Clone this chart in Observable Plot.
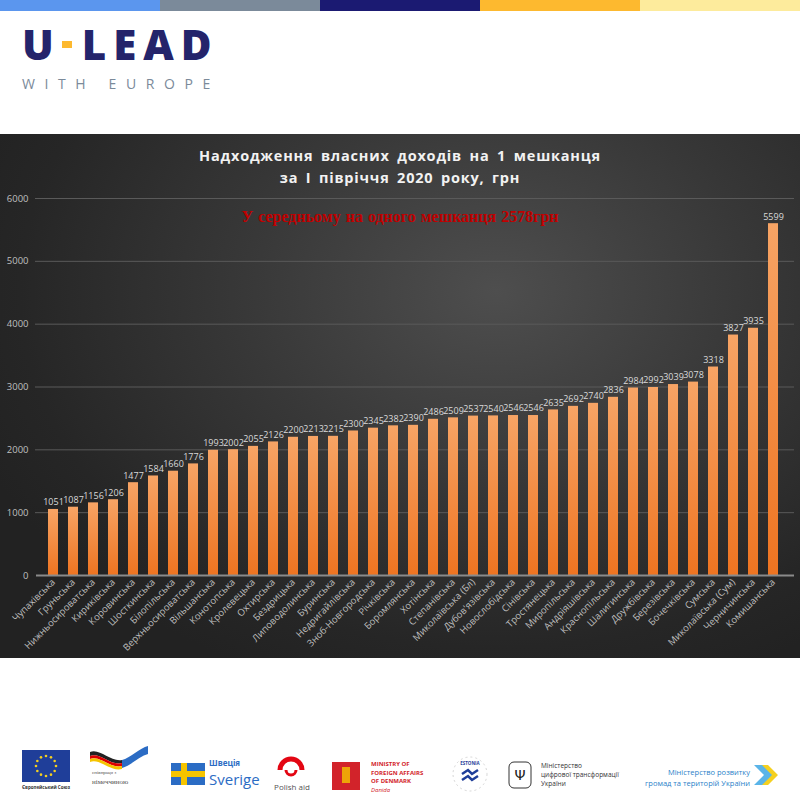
<!DOCTYPE html>
<html>
<head>
<meta charset="utf-8">
<script src="https://cdn.jsdelivr.net/npm/d3@7"></script>
<script src="https://cdn.jsdelivr.net/npm/@observablehq/plot@0.6"></script>
<style>
  html, body { margin: 0; padding: 0; background: #fff; }
  #page { position: relative; width: 800px; height: 800px; overflow: hidden; background: #fff; font-family: "Open Sans", sans-serif; }
  #topbar { position: absolute; left: 0; top: 0; width: 800px; height: 11px; display: flex; }
  #topbar div { flex: 1; height: 11px; }
  #logo { position: absolute; left: 22px; top: 22px; }
  #logo .big { font-family: "Open Sans", sans-serif; font-weight: 800; font-size: 42px; color: #24246b; letter-spacing: 7px; line-height: 44px; display: flex; align-items: center; }
  #logo .dash { display: inline-block; width: 10px; height: 7px; background: #fdb92f; margin: 0 10px 0 1px; }
  #logo .small { font-family: "Open Sans", sans-serif; font-size: 14px; color: #7b8a9a; letter-spacing: 9.6px; margin-top: 8px; }
  #panel { position: absolute; left: 0; top: 134px; width: 800px; height: 524px;
    background: radial-gradient(ellipse 70% 80% at 62% 30%, #4e4e4e 0%, #383838 45%, #262626 85%, #222 100%); }
  #title { position: absolute; left: 0; top: 11px; width: 800px; text-align: center; color: #f2f2f2;
    font-family: "Open Sans", sans-serif; font-weight: 700; font-size: 14.5px; line-height: 22px; letter-spacing: 0.8px; word-spacing: 3px; }
  #avg { position: absolute; left: 0; top: 74px; width: 800px; text-align: center; color: #c00000;
    font-family: "Liberation Serif", serif; font-weight: 700; font-size: 16px; word-spacing: 1px; }
  #chart { position: absolute; left: 0; top: 56px; }
  #footer { position: absolute; left: 0; top: 740px; width: 800px; height: 52px; }
</style>
</head>
<body>
<div id="page">
  <div id="topbar">
    <div style="background:#5b96ee"></div>
    <div style="background:#7b8a9a"></div>
    <div style="background:#1b1a72"></div>
    <div style="background:#fdb92f"></div>
    <div style="background:#fdeb9c"></div>
  </div>
  <div id="logo">
    <div class="big">U<span class="dash"></span>LEAD</div>
    <div class="small">WITH EUROPE</div>
  </div>
  <div id="panel">
    <div id="title">Надходження власних доходів на 1 мешканця<br>за I півріччя 2020 року, грн</div>
    <div id="chart"></div>
    <div id="avg">У середньому на одного мешканця 2578грн</div>
  </div>
  <div id="footer">
    <svg width="800" height="52" style="position:absolute;left:0;top:0">
      <rect x="22" y="10" width="48" height="32" fill="#1f3e99"/>
      <g id="stars"></g>
      <text x="46" y="49" font-size="4.5" text-anchor="middle" fill="#333" font-weight="700" font-family="Open Sans">Європейський Союз</text>
      <path d="M90 12 C100 8,110 22,122 20 L122 23 C110 26,100 12,90 16Z" fill="#222"/>
      <path d="M90 16 C100 12,110 26,122 23 L122 26 C110 29,100 15,90 19Z" fill="#d00"/>
      <path d="M90 19 C100 15,110 29,122 26 L122 29 C110 32,100 18,90 22Z" fill="#f5c400"/>
      <path d="M122 20 C130 18,140 8,148 6 L148 14 C140 16,130 26,122 28Z" fill="#2b6cc4"/>
      <text x="92" y="34" font-size="5" fill="#555" font-family="Liberation Serif">співпраця з</text>
      <text x="92" y="44" font-size="7" fill="#555" font-family="Liberation Serif">німеччиною</text>
      <rect x="171" y="23" width="34" height="22" fill="#2b6cc4"/>
      <rect x="181" y="23" width="6" height="22" fill="#f5c400"/>
      <rect x="171" y="31" width="34" height="6" fill="#f5c400"/>
      <text x="209" y="26" font-size="8" fill="#2b6cc4" font-weight="700" font-family="Open Sans">Швеція</text>
      <text x="209" y="45" font-size="15" fill="#2b6cc4" font-family="Open Sans">Sverige</text>
      <path d="M280 30 A11 11 0 1 1 302 30" fill="none" stroke="#e30613" stroke-width="5"/>
      <path d="M286 30 A5 5 0 0 0 296 30" fill="none" stroke="#e30613" stroke-width="3"/>
      <text x="292" y="50" font-size="8" fill="#555" text-anchor="middle" font-family="Open Sans">Polish aid</text>
      <rect x="332" y="22" width="28" height="28" fill="#d2232a"/>
      <rect x="342" y="27" width="8" height="16" fill="#f5c400" opacity="0.8"/>
      <text x="371" y="26" font-size="6" fill="#d2232a" font-weight="700" font-family="Open Sans">MINISTRY OF</text>
      <text x="371" y="34.5" font-size="6" fill="#d2232a" font-weight="700" font-family="Open Sans">FOREIGN AFFAIRS</text>
      <text x="371" y="43" font-size="6" fill="#d2232a" font-weight="700" font-family="Open Sans">OF DENMARK</text>
      <text x="371" y="51.5" font-size="6" fill="#d2232a" font-style="italic" font-family="Open Sans">Danida</text>
      <circle cx="470" cy="34" r="17" fill="none" stroke="#ccc" stroke-width="0.8" stroke-dasharray="2 3"/>
      <text x="470" y="25" font-size="4.5" fill="#1f3e99" text-anchor="middle" font-weight="700" font-family="Open Sans">ESTONIA</text>
      <path d="M462 34 l6 -4 l4 4 l6 -4 M462 40 l6 -4 l4 4 l6 -4" fill="none" stroke="#1f3e99" stroke-width="2.5"/>
      <rect x="509" y="22" width="22" height="26" rx="5" fill="#fff" stroke="#333" stroke-width="1"/>
      <text x="520" y="40" font-size="14" fill="#222" text-anchor="middle" font-family="DejaVu Sans">Ψ</text>
      <text x="541" y="28" font-size="6.5" fill="#333" font-family="Open Sans">Міністерство</text>
      <text x="541" y="37" font-size="6.5" fill="#333" font-family="Open Sans">цифрової трансформації</text>
      <text x="541" y="46" font-size="6.5" fill="#333" font-family="Open Sans">України</text>
      <text x="750" y="35" font-size="7.5" fill="#2b82c9" text-anchor="end" font-family="Open Sans">Міністерство розвитку</text>
      <text x="750" y="46" font-size="7.5" fill="#2b82c9" text-anchor="end" font-family="Open Sans">громад та територій України</text>
      <path d="M754 25 l10 0 l10 10 l-10 10 l-10 0 l10 -10z" fill="#5ab4e8"/>
      <path d="M762 25 l6 0 l10 10 l-10 10 l-6 0 l10 -10z" fill="#f5d020"/>
    </svg>
  </div>
</div>
<script>
const communities = ["Чупахівська","Груньська","Нижньосироватська","Кириківська","Коровинська","Шосткинська","Білопільська","Верхньосироватська","Вільшанська","Конотопська","Кролевецька","Охтирська","Бездрицька","Липоводолинська","Буринська","Недригайлівська","Зноб-Новгородська","Річківська","Боромлянська","Хотінська","Степанівська","Миколаївська (Бл)","Дубов'язівська","Новослобідська","Сінівська","Тростянецька","Миропільська","Андріяшівська","Краснопільська","Шалигинська","Дружбівська","Березівська","Бочечківська","Сумська","Миколаївська (Сум)","Черничинська","Комишанська"];
const incomePerResident = [1051,1087,1156,1206,1477,1584,1660,1776,1993,2002,2055,2126,2200,2213,2215,2300,2345,2382,2390,2486,2509,2537,2540,2546,2546,2635,2692,2740,2836,2984,2992,3039,3078,3318,3827,3935,5599];
const yTicks = [0,1000,2000,3000,4000,5000,6000];

const data = communities.map((name, i) => ({name, value: incomePerResident[i]}));

const plot = Plot.plot({
  width: 800,
  height: 468,
  marginTop: 8,
  marginBottom: 83,
  marginLeft: 32,
  marginRight: 6,
  style: {background: "transparent", color: "#bfbfbf", fontFamily: "Open Sans, sans-serif", fontSize: "9px"},
  x: {domain: communities, padding: 0.5, label: null},
  y: {domain: [0, 6000], label: null},
  marks: [
    Plot.gridY(yTicks.filter(d => d > 0), {stroke: "#5a5a5a", strokeOpacity: 1, insetLeft: 3}),
    Plot.barY(data, {x: "name", y: "value", fill: "url(#barGrad)"}),
    Plot.ruleY([0], {stroke: "#8a8a8a", strokeWidth: 2, insetLeft: 4}),
    Plot.text(data, {x: "name", y: "value", text: d => String(d.value), dy: -7, fill: "#d9d9d9", fontSize: 9}),
    Plot.axisY({ticks: yTicks, tickSize: 0, tickPadding: 4, tickFormat: d => String(d), fill: "#bfbfbf", fontSize: 9.5}),
    Plot.axisX({tickRotate: -45, tickSize: 0, tickPadding: 5, fill: "#bfbfbf", fontSize: 9.5})
  ]
});

const ns = "http://www.w3.org/2000/svg";
const defs = document.createElementNS(ns, "defs");
defs.innerHTML = '<linearGradient id="barGrad" x1="0" y1="0" x2="0" y2="1"><stop offset="0" stop-color="#f7a465"/><stop offset="1" stop-color="#ee7421"/></linearGradient>';
plot.insertBefore(defs, plot.firstChild);
document.getElementById("chart").appendChild(plot);

// EU stars
const g = document.getElementById("stars");
for (let i = 0; i < 12; i++) {
  const a = i / 12 * 2 * Math.PI;
  const c = document.createElementNS(ns, "circle");
  c.setAttribute("cx", 46 + 10 * Math.cos(a));
  c.setAttribute("cy", 26 + 10 * Math.sin(a));
  c.setAttribute("r", 1.3);
  c.setAttribute("fill", "#f5d020");
  g.appendChild(c);
}
</script>
</body>
</html>
